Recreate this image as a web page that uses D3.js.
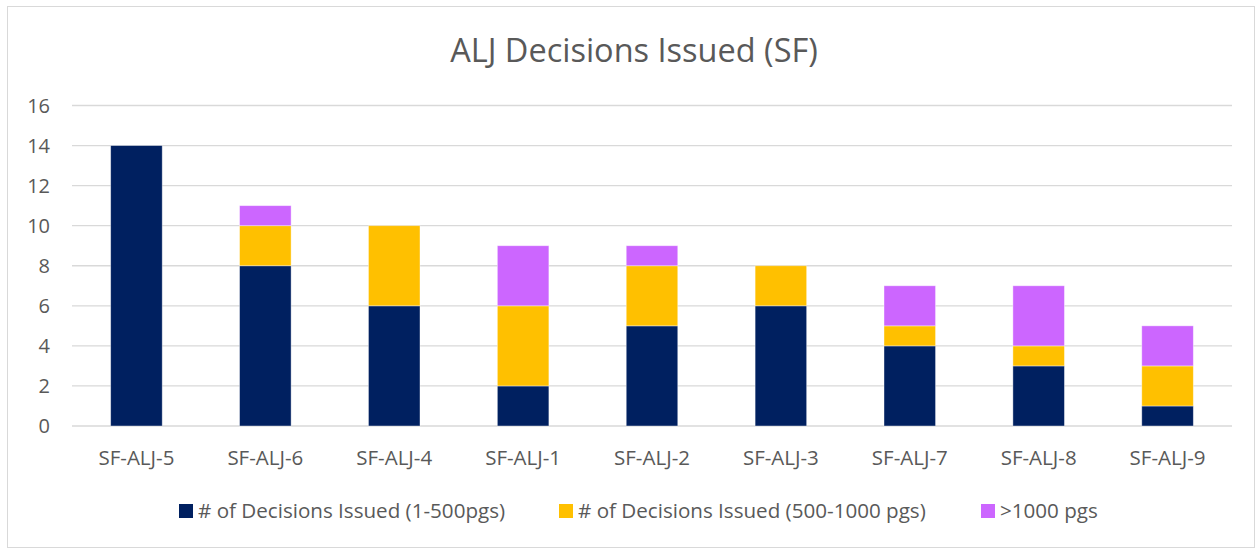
<!DOCTYPE html>
<html>
<head>
<meta charset="utf-8">
<script src="https://cdn.jsdelivr.net/npm/d3@7"></script>
<style>
  body { margin: 0; background: #fff; }
  text { font-family: "Open Sans", "Noto Sans", sans-serif; fill: #595959; }
</style>
</head>
<body>
<svg id="chart" width="1257" height="550"></svg>
<script>
const judges = ["SF-ALJ-5", "SF-ALJ-6", "SF-ALJ-4", "SF-ALJ-1", "SF-ALJ-2",
    "SF-ALJ-3", "SF-ALJ-7", "SF-ALJ-8", "SF-ALJ-9"]
const small = [14, 8, 6, 2, 5, 6, 4, 3, 1]
const medium = [0, 2, 4, 4, 3, 2, 1, 1, 2]
const large = [0, 1, 0, 3, 1, 0, 2, 3, 2]
const seriesNames = ["# of Decisions Issued (1-500pgs)",
    "# of Decisions Issued (500-1000 pgs)", ">1000 pgs"]
const yTicks = [0, 2, 4, 6, 8, 10, 12, 14, 16]

const colors = ["#002060", "#FFC000", "#CC66FF"]

const svg = d3.select("#chart")

// outer frame
svg.append("rect")
    .attr("x", 7.5).attr("y", 6.5)
    .attr("width", 1247).attr("height", 541)
    .attr("fill", "#fff")
    .attr("stroke", "#d9d9d9")

const margin = { top: 105.5, left: 72 }
const plotW = 1232 - margin.left
const plotH = 426 - margin.top

const x = d3.scaleBand()
    .domain(judges)
    .range([margin.left, margin.left + plotW])
    .paddingInner(0.6)
    .paddingOuter(0.3)

const y = d3.scaleLinear()
    .domain([0, 16])
    .range([margin.top + plotH, margin.top])

// gridlines
svg.append("g")
    .selectAll("line")
    .data(yTicks)
    .enter()
    .append("line")
    .attr("x1", margin.left)
    .attr("x2", margin.left + plotW)
    .attr("y1", d => y(d))
    .attr("y2", d => y(d))
    .attr("stroke", "#d9d9d9")
    .attr("stroke-width", 1.3)

// y labels
svg.append("g")
    .selectAll("text")
    .data(yTicks)
    .enter()
    .append("text")
    .attr("x", 50)
    .attr("y", d => y(d) + 7)
    .attr("text-anchor", "end")
    .style("font-size", "20px")
    .text(d => d)

const table = judges.map((j, i) => ({ judge: j, s0: small[i], s1: medium[i], s2: large[i] }))
const stacked = d3.stack().keys(["s0", "s1", "s2"])(table)

svg.append("g")
    .selectAll("g")
    .data(stacked)
    .enter()
    .append("g")
    .attr("fill", (d, i) => colors[i])
    .selectAll("rect")
    .data(d => d.filter(p => p[1] > p[0]))
    .enter()
    .append("rect")
    .attr("x", d => x(d.data.judge))
    .attr("width", x.bandwidth())
    .attr("y", d => y(d[1]))
    .attr("height", d => y(d[0]) - y(d[1]))
    .attr("stroke", "#fff")
    .attr("stroke-opacity", 0.5)
    .attr("stroke-width", 0.8)

// category labels
svg.append("g")
    .selectAll("text")
    .data(judges)
    .enter()
    .append("text")
    .attr("x", d => x(d) + x.bandwidth() / 2)
    .attr("y", 465)
    .attr("text-anchor", "middle")
    .style("font-size", "20.5px")
    .text(d => d)

// title
svg.append("text")
    .attr("x", 634)
    .attr("y", 62)
    .attr("text-anchor", "middle")
    .style("font-size", "32.5px")
    .text("ALJ Decisions Issued (SF)")

// legend
const legendX = [179, 559, 981]
const legend = svg.append("g")
    .selectAll("g")
    .data(seriesNames)
    .enter()
    .append("g")
    .attr("transform", (d, i) => `translate(${legendX[i]},511)`)

legend.append("rect")
    .attr("x", 0).attr("y", -7)
    .attr("width", 14).attr("height", 14)
    .attr("fill", (d, i) => colors[i])

legend.append("text")
    .attr("x", 19)
    .attr("y", 7)
    .style("font-size", "20.6px")
    .text(d => d)
</script>
</body>
</html>
